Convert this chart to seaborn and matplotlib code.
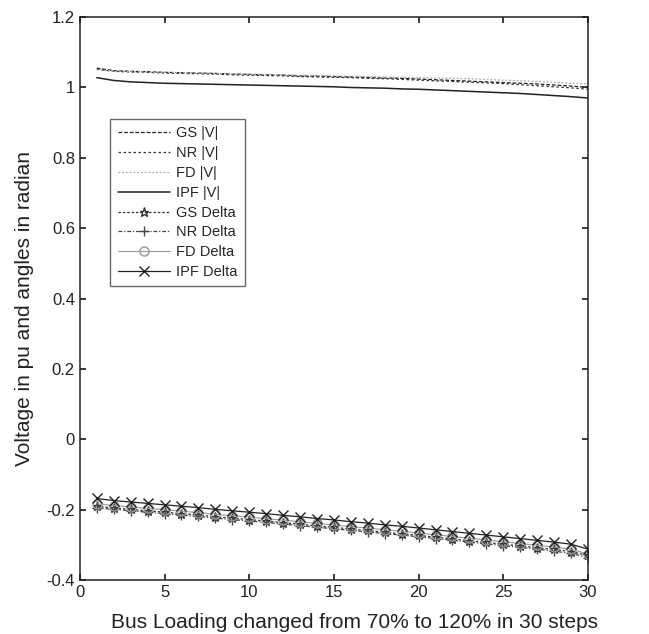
import pandas as pd
import matplotlib
matplotlib.use("Agg")
import matplotlib.pyplot as plt
import seaborn as sns

steps = list(range(1, 31))

gs_v = [1.055, 1.048, 1.046, 1.045, 1.043, 1.042, 1.041, 1.040, 1.038, 1.037,
        1.036, 1.035, 1.033, 1.032, 1.031, 1.030, 1.028, 1.027, 1.026, 1.024,
        1.022, 1.020, 1.018, 1.016, 1.014, 1.012, 1.010, 1.007, 1.004, 1.000]
nr_v = [1.052, 1.046, 1.044, 1.043, 1.041, 1.040, 1.039, 1.038, 1.036, 1.035,
        1.034, 1.033, 1.031, 1.030, 1.029, 1.028, 1.026, 1.025, 1.023, 1.021,
        1.019, 1.017, 1.015, 1.013, 1.011, 1.008, 1.005, 1.002, 0.999, 0.995]
fd_v = [1.050, 1.047, 1.045, 1.044, 1.043, 1.042, 1.041, 1.040, 1.039, 1.038,
        1.037, 1.036, 1.035, 1.034, 1.033, 1.032, 1.031, 1.030, 1.029, 1.028,
        1.027, 1.026, 1.025, 1.023, 1.021, 1.019, 1.017, 1.015, 1.012, 1.010]
ipf_v = [1.028, 1.020, 1.016, 1.014, 1.012, 1.011, 1.010, 1.009, 1.008, 1.007,
         1.006, 1.005, 1.004, 1.003, 1.002, 1.000, 0.999, 0.998, 0.996, 0.995,
         0.993, 0.991, 0.989, 0.987, 0.985, 0.983, 0.980, 0.977, 0.974, 0.970]

gs_d = [-0.190, -0.195, -0.199, -0.203, -0.207, -0.211, -0.215, -0.220, -0.224, -0.228,
        -0.232, -0.237, -0.241, -0.246, -0.250, -0.255, -0.259, -0.264, -0.268, -0.273,
        -0.278, -0.283, -0.288, -0.293, -0.298, -0.303, -0.308, -0.313, -0.319, -0.330]
nr_d = [-0.195, -0.199, -0.203, -0.207, -0.211, -0.215, -0.219, -0.224, -0.228, -0.232,
        -0.236, -0.241, -0.245, -0.250, -0.254, -0.259, -0.263, -0.268, -0.272, -0.277,
        -0.282, -0.287, -0.292, -0.297, -0.302, -0.307, -0.312, -0.318, -0.324, -0.336]
fd_d = [-0.183, -0.188, -0.192, -0.196, -0.200, -0.204, -0.208, -0.213, -0.217, -0.221,
        -0.225, -0.230, -0.234, -0.239, -0.243, -0.248, -0.252, -0.257, -0.261, -0.266,
        -0.271, -0.276, -0.281, -0.286, -0.291, -0.296, -0.301, -0.306, -0.312, -0.326]
ipf_d = [-0.168, -0.174, -0.178, -0.182, -0.186, -0.190, -0.194, -0.199, -0.203, -0.207,
         -0.211, -0.216, -0.220, -0.225, -0.229, -0.234, -0.238, -0.243, -0.247, -0.252,
         -0.257, -0.262, -0.267, -0.272, -0.277, -0.282, -0.287, -0.292, -0.298, -0.312]

series = {
    "GS |V|": gs_v, "NR |V|": nr_v, "FD |V|": fd_v, "IPF |V|": ipf_v,
    "GS Delta": gs_d, "NR Delta": nr_d, "FD Delta": fd_d, "IPF Delta": ipf_d,
}
styles = {
    "GS |V|": dict(color="#222222", linestyle=(0, (3, 1.5)), marker=None, lw=0.9),
    "NR |V|": dict(color="#333333", linestyle=(0, (2, 2)), marker=None, lw=0.9),
    "FD |V|": dict(color="#aaaaaa", linestyle=(0, (1.5, 1.5)), marker=None, lw=0.9),
    "IPF |V|": dict(color="#222222", linestyle="-", marker=None, lw=1.1),
    "GS Delta": dict(color="#333333", linestyle=(0, (2, 1.5)), marker="*", lw=0.9),
    "NR Delta": dict(color="#444444", linestyle=(0, (3, 1.5, 1, 1.5)), marker="+", lw=0.9),
    "FD Delta": dict(color="#999999", linestyle="-", marker="o", lw=0.8),
    "IPF Delta": dict(color="#222222", linestyle="-", marker="x", lw=0.9),
}

df = pd.DataFrame([(k, s, v) for k, vals in series.items() for s, v in zip(steps, vals)],
                  columns=["series", "step", "value"])

sns.set_theme(style="white")
plt.rcParams["font.family"] = ["Liberation Sans", "DejaVu Sans"]

fig = plt.figure(figsize=(6.49, 6.34), dpi=100)
ax = fig.add_axes([0.123, 0.085, 0.783, 0.888])

for name in series:
    st = styles[name]
    sub = df[df["series"] == name]
    sns.lineplot(data=sub, x="step", y="value", ax=ax, label=name,
                 color=st["color"], linestyle=st["linestyle"], lw=st["lw"],
                 marker=st["marker"], markersize=6.5, markerfacecolor="none",
                 markeredgecolor=st["color"], markeredgewidth=1.0)

ax.set_xlim(0, 30)
ax.set_ylim(-0.4, 1.2)
ax.set_xticks([0, 5, 10, 15, 20, 25, 30])
ax.set_yticks([-0.4, -0.2, 0, 0.2, 0.4, 0.6, 0.8, 1, 1.2])
ax.set_yticklabels(["-0.4", "-0.2", "0", "0.2", "0.4", "0.6", "0.8", "1", "1.2"])
ax.tick_params(direction="in", length=4, labelsize=12, colors="#222222",
               top=True, right=True, bottom=True, left=True)
for sp in ax.spines.values():
    sp.set_color("#222222")
    sp.set_linewidth(1.1)
ax.set_xlabel("Bus Loading changed from 70% to 120% in 30 steps", fontsize=15, color="#222222")
ax.set_ylabel("Voltage in pu and angles in radian", fontsize=15, color="#222222")
ax.xaxis.set_label_coords(0.54, -0.058)
ax.yaxis.set_label_coords(-0.09, 0.483)

leg = ax.legend(loc="upper left", bbox_to_anchor=(0.046, 0.832), fontsize=10.5,
                frameon=True, fancybox=False, edgecolor="#444444",
                handlelength=3.6, labelspacing=0.4, borderpad=0.5, handletextpad=0.4)
leg.get_frame().set_linewidth(1.0)

fig.savefig("out.png", dpi=100)
